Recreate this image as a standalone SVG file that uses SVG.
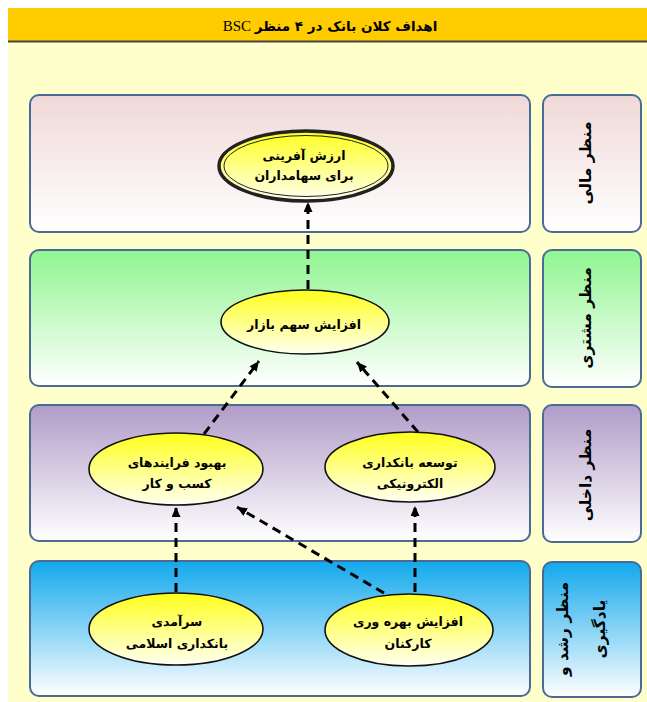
<svg xmlns="http://www.w3.org/2000/svg" width="647" height="702" viewBox="0 0 647 702">
<defs>
<linearGradient id="gFin" x1="0" y1="0" x2="0" y2="1"><stop offset="0" stop-color="#F0D8D8"/><stop offset="1" stop-color="#FFFFFF"/></linearGradient>
<linearGradient id="gCus" x1="0" y1="0" x2="0" y2="1"><stop offset="0" stop-color="#90F590"/><stop offset="1" stop-color="#FFFFFF"/></linearGradient>
<linearGradient id="gInt" x1="0" y1="0" x2="0" y2="1"><stop offset="0" stop-color="#B09CC8"/><stop offset="1" stop-color="#FFFFFF"/></linearGradient>
<linearGradient id="gLrn" x1="0" y1="0" x2="0" y2="1"><stop offset="0" stop-color="#12A8EC"/><stop offset="1" stop-color="#FFFFFF"/></linearGradient>
<linearGradient id="gEl" x1="0" y1="0" x2="0" y2="1"><stop offset="0" stop-color="#FFFF1A"/><stop offset="1" stop-color="#FFFFF2"/></linearGradient>
<marker id="ar" markerUnits="userSpaceOnUse" markerWidth="10" markerHeight="9" refX="10" refY="4.5" orient="auto"><path d="M0,0 L10,4.5 L0,9 z" fill="#000"/></marker>
</defs>
<style>
.band{stroke:#4A6B96;stroke-width:2}
.el{fill:url(#gEl);stroke:#111;stroke-width:1.6}
.t{font-family:"DejaVu Sans","Noto Sans",sans-serif;font-weight:bold;font-size:12.5px;fill:#000;text-anchor:middle;direction:rtl}
.lab{font-family:"DejaVu Sans","Noto Sans",sans-serif;font-weight:bold;font-size:15.5px;fill:#000;text-anchor:middle;direction:rtl}
.cn{stroke:#000;stroke-width:3;stroke-dasharray:9,6;fill:none;marker-end:url(#ar)}
</style>
<rect width="647" height="702" fill="#FFFFFF"/>
<rect x="8" y="42" width="639" height="660" fill="#FFFFCC"/>
<g id="title">
<rect x="8" y="8" width="639" height="34" fill="#FFCC00"/>
<line x1="8" y1="41.5" x2="647" y2="41.5" stroke="#444" stroke-width="2"/>
<text x="330" y="31" font-family="'Liberation Serif','DejaVu Sans',serif" font-size="15" text-anchor="middle" direction="rtl"><tspan font-family="'DejaVu Sans',sans-serif" font-weight="bold" font-size="13.5">اهداف کلان بانک در ۴ منظر</tspan> BSC</text>
</g>
<g id="band-financial">
<rect class="band" x="30" y="95" width="500" height="137" rx="9" fill="url(#gFin)"/>
<rect class="band" x="543" y="95" width="98" height="137" rx="9" fill="url(#gFin)"/>
<text class="lab" transform="translate(591,163) rotate(-90)">منظر مالی</text>
</g>
<g id="band-customer">
<rect class="band" x="30" y="250" width="500" height="136" rx="9" fill="url(#gCus)"/>
<rect class="band" x="543" y="250" width="98" height="137" rx="9" fill="url(#gCus)"/>
<text class="lab" transform="translate(591,318) rotate(-90)">منظر مشتری</text>
</g>
<g id="band-internal">
<rect class="band" x="30" y="405" width="500" height="136" rx="9" fill="url(#gInt)"/>
<rect class="band" x="543" y="405" width="98" height="137" rx="9" fill="url(#gInt)"/>
<text class="lab" transform="translate(591,475) rotate(-90)">منظر داخلی</text>
</g>
<g id="band-learning">
<rect class="band" x="30" y="561" width="500" height="135" rx="9" fill="url(#gLrn)"/>
<rect class="band" x="543" y="562" width="98" height="135" rx="9" fill="url(#gLrn)"/>
<text class="lab" transform="translate(568,629) rotate(-90)">منظر رشد و</text>
<text class="lab" transform="translate(605,629) rotate(-90)">یادگیری</text>
</g>
<g id="connectors">
<line class="cn" x1="308" y1="289" x2="308" y2="202"/>
<line class="cn" x1="204" y1="434" x2="259" y2="361"/>
<line class="cn" x1="418" y1="432" x2="357" y2="362"/>
<line class="cn" x1="176" y1="592" x2="176" y2="507"/>
<line class="cn" x1="415" y1="592" x2="415" y2="506"/>
<line class="cn" x1="384" y1="593" x2="237" y2="507"/>
</g>
<g id="n-value">
<ellipse cx="306" cy="166" rx="87" ry="35" fill="url(#gEl)" stroke="#222" stroke-width="3.5"/>
<ellipse cx="306" cy="166" rx="82" ry="30.5" fill="none" stroke="#222" stroke-width="1"/>
<text class="t" x="304" y="160">ارزش آفرینی</text>
<text class="t" x="304" y="180">برای سهامداران</text>
</g>
<g id="n-market">
<ellipse class="el" cx="305" cy="322" rx="84" ry="32"/>
<text class="t" x="304" y="329">افزایش سهم بازار</text>
</g>
<g id="n-process">
<ellipse class="el" cx="176" cy="469" rx="87" ry="36"/>
<text class="t" x="177" y="467">بهبود فرایندهای</text>
<text class="t" x="177" y="488">کسب و کار</text>
</g>
<g id="n-ebank">
<ellipse class="el" cx="410" cy="467" rx="85" ry="35"/>
<text class="t" x="410" y="467">توسعه بانکداری</text>
<text class="t" x="410" y="488">الکترونیکی</text>
</g>
<g id="n-islamic">
<ellipse class="el" cx="176" cy="629" rx="87" ry="36"/>
<text class="t" x="177" y="626">سرآمدی</text>
<text class="t" x="177" y="648">بانکداری اسلامی</text>
</g>
<g id="n-productivity">
<ellipse class="el" cx="409" cy="630" rx="84" ry="36"/>
<text class="t" x="408" y="626">افزایش بهره وری</text>
<text class="t" x="408" y="648">کارکنان</text>
</g>
</svg>
